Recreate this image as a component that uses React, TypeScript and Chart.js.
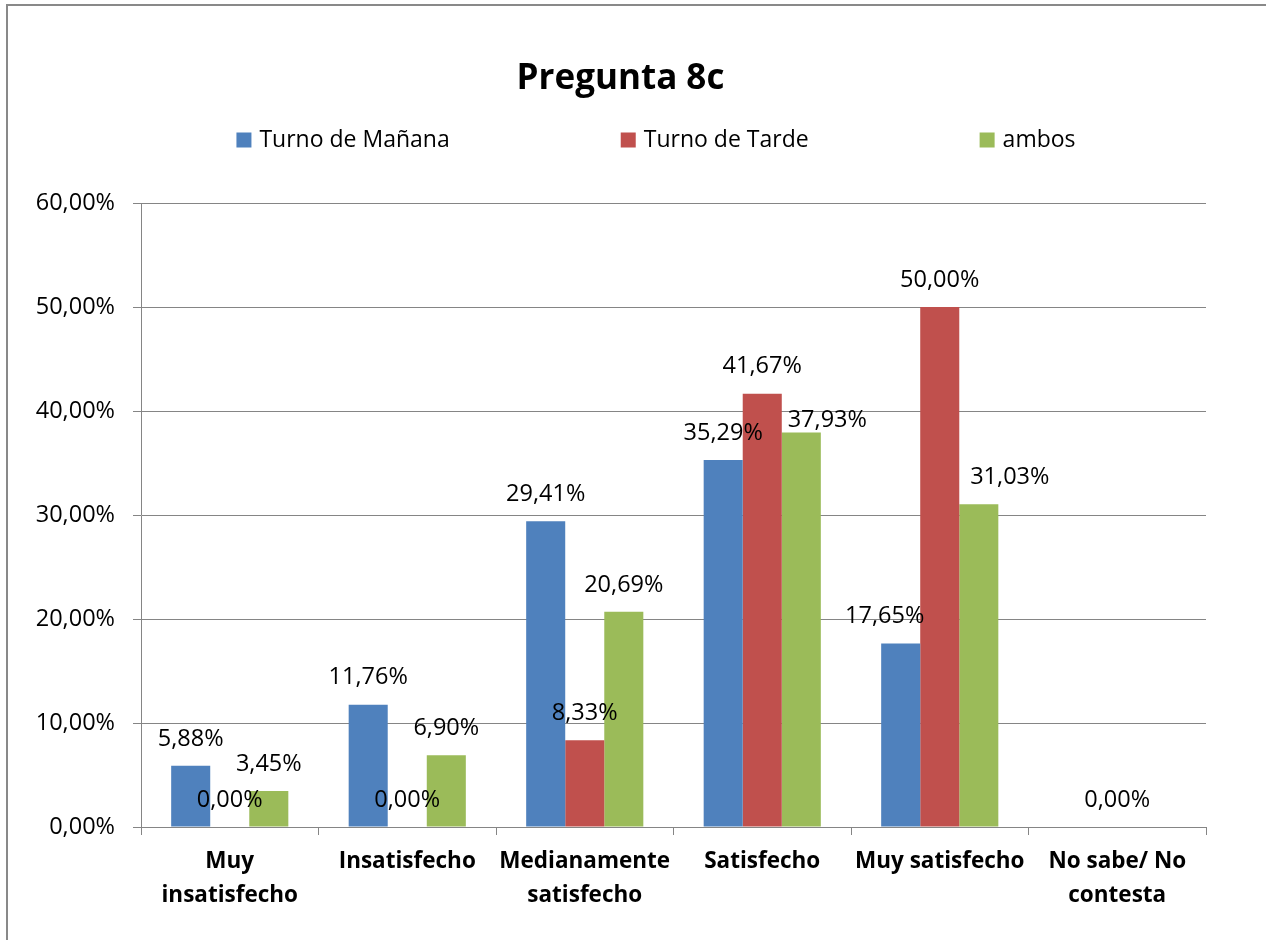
import React, { useEffect, useRef } from "react";
import { Chart, registerables } from "chart.js";

Chart.register(...registerables);

const TITLE = "Pregunta 8c";
const CATEGORIES: string[][] = [
  ["Muy", "insatisfecho"],
  ["Insatisfecho"],
  ["Medianamente", "satisfecho"],
  ["Satisfecho"],
  ["Muy satisfecho"],
  ["No sabe/ No", "contesta"],
];
const SERIES_NAMES = ["Turno de Mañana", "Turno de Tarde", "ambos"];
const MANANA: (number | null)[] = [5.88, 11.76, 29.41, 35.29, 17.65, null];
const TARDE: (number | null)[] = [0, 0, 8.33, 41.67, 50.0, 0];
const AMBOS: (number | null)[] = [3.45, 6.9, 20.69, 37.93, 31.03, null];
const Y_TICKS = [0, 10, 20, 30, 40, 50, 60];
const COLORS = ["#4F81BD", "#C0504D", "#9BBB59"];

// small hand-placed nudges of some value labels (dataset-index)
const LABEL_NUDGES: Record<string, [number, number]> = {
  "0-4": [-16, 0],
  "2-3": [26, 15],
  "2-4": [31, 0],
};

const FONT = "'Open Sans', sans-serif";
const GRID = "#858585";

const fmt = (v: number) => v.toFixed(2).replace(".", ",") + "%";

const valueLabels = {
  id: "valueLabels",
  afterDatasetsDraw(chart: any) {
    const ctx = chart.ctx;
    ctx.save();
    ctx.font = `23.5px ${FONT}`;
    ctx.fillStyle = "#000";
    ctx.textAlign = "center";
    ctx.textBaseline = "middle";
    chart.data.datasets.forEach((ds: any, di: number) => {
      const meta = chart.getDatasetMeta(di);
      meta.data.forEach((el: any, i: number) => {
        const v = ds.data[i];
        if (v === null || v === undefined) return;
        const n = LABEL_NUDGES[`${di}-${i}`] || [0, 0];
        ctx.fillText(fmt(v), el.x + n[0], el.y - 27 + n[1]);
      });
    });
    ctx.restore();
  },
};

const customLegend = {
  id: "customLegend",
  afterDraw(chart: any, _args: any, opts: any) {
    const ctx = chart.ctx;
    ctx.save();
    ctx.font = `23px ${FONT}`;
    ctx.textBaseline = "middle";
    ctx.textAlign = "left";
    const box = 15;
    const boxGap = 8;
    const gap = opts.gap;
    const items = chart.data.datasets.map((ds: any) => ({
      text: ds.label,
      color: ds.backgroundColor,
      w: box + boxGap + ctx.measureText(ds.label).width,
    }));
    const total = items.reduce((s: number, it: any) => s + it.w, 0) + gap * (items.length - 1);
    let x = opts.centerX - total / 2;
    const y = opts.y;
    items.forEach((it: any) => {
      ctx.fillStyle = it.color;
      ctx.fillRect(x, y - box / 2, box, box);
      ctx.fillStyle = "#000";
      ctx.fillText(it.text, x + box + boxGap, y);
      x += it.w + gap;
    });
    ctx.restore();
  },
};

export default function App() {
  const ref = useRef<HTMLCanvasElement | null>(null);
  useEffect(() => {
    if (!ref.current) return;
    Chart.defaults.font.family = FONT;
    Chart.defaults.color = "#000";
    const chart = new Chart(ref.current, {
      type: "bar",
      data: {
        labels: CATEGORIES,
        datasets: [
          { label: SERIES_NAMES[0], data: MANANA, backgroundColor: COLORS[0] },
          { label: SERIES_NAMES[1], data: TARDE, backgroundColor: COLORS[1] },
          { label: SERIES_NAMES[2], data: AMBOS, backgroundColor: COLORS[2] },
        ] as any,
      },
      options: {
        responsive: false,
        animation: false,
        layout: { padding: { left: 35, right: 60, top: 0, bottom: 0 } },
        datasets: { bar: { categoryPercentage: 0.66, barPercentage: 1 } } as any,
        plugins: {
          legend: { display: false },
          tooltip: { enabled: false },
          title: {
            display: true,
            text: TITLE,
            color: "#000",
            font: { size: 35, weight: "bold", family: FONT, lineHeight: 1.2 },
            padding: { top: 58, bottom: 103 },
          },
          customLegend: { gap: 171, centerX: 656, y: 140 },
        } as any,
        scales: {
          x: {
            grid: { display: true, drawOnChartArea: false, drawTicks: true, tickLength: 8, color: GRID, offset: true },
            border: { display: true, color: GRID, width: 1 },
            ticks: {
              color: "#000",
              padding: 10,
              maxRotation: 0,
              autoSkip: false,
              font: { size: 22.5, weight: "bold", family: FONT, lineHeight: 34 / 22.5 },
            },
            afterFit: (s: any) => {
              s.height = 113;
            },
          },
          y: {
            min: 0,
            max: 60,
            afterBuildTicks: (s: any) => {
              s.ticks = Y_TICKS.map((v) => ({ value: v }));
            },
            grid: { color: GRID, lineWidth: 1, tickLength: 8, drawTicks: true },
            border: { display: true, color: GRID, width: 1 },
            ticks: {
              color: "#000",
              padding: 18,
              font: { size: 23.5, family: FONT },
              callback: (v: any) => fmt(Number(v)),
            },
            afterFit: (s: any) => {
              s.width = 106;
            },
          },
        },
      },
      plugins: [valueLabels, customLegend],
    });
    return () => chart.destroy();
  }, []);

  return (
    <div style={{ position: "fixed", left: 0, top: 0, width: 1266, height: 940, overflow: "hidden", background: "#fff" }}>
      <div
        style={{
          position: "absolute",
          left: 6,
          top: 4,
          width: 1300,
          height: 1000,
          border: "2px solid #898989",
          boxSizing: "border-box",
        }}
      />
      <canvas ref={ref} width={1266} height={940} style={{ position: "absolute", left: 0, top: 0, width: 1266, height: 940 }} />
    </div>
  );
}
